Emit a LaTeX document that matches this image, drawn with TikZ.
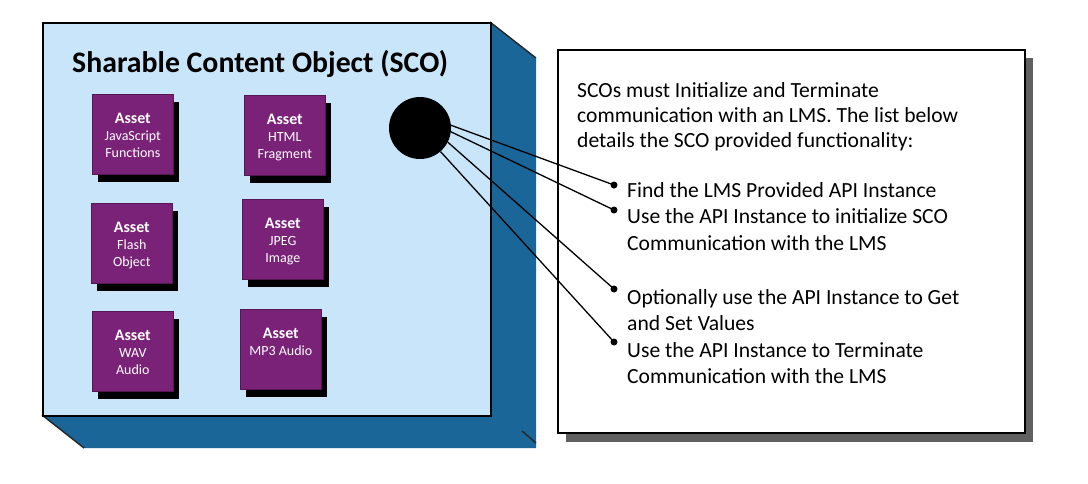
\documentclass[tikz,border=0pt]{standalone}
\usepackage{fontspec}
\setmainfont{Carlito}
\usetikzlibrary{calc}
\definecolor{scofront}{RGB}{201,229,250}
\definecolor{scoside}{RGB}{26,102,153}
\definecolor{assetpurple}{RGB}{122,33,120}
\definecolor{shadowgray}{RGB}{96,96,96}
\begin{document}
\begin{tikzpicture}[x=1pt,y=-1pt,
  frontbox/.style={draw=black,line width=1.6pt,fill=scofront,minimum width=448pt,minimum height=393pt,inner sep=0pt,anchor=north west},
  asset/.style={fill=assetpurple,draw=assetpurple!70!black,line width=0.6pt,minimum width=81pt,minimum height=80pt,inner sep=0pt,anchor=north west},
  assetshadow/.style={fill=black,minimum width=81pt,minimum height=80pt,inner sep=0pt,anchor=north west},
  assethead/.style={text=white,font=\fontsize{16}{18}\selectfont\bfseries,anchor=base,inner sep=0pt},
  assetsub/.style={text=white,font=\fontsize{14}{16}\selectfont,anchor=base,inner sep=0pt},
  hubstyle/.style={circle,fill=black,minimum size=62pt,inner sep=0pt},
  dotstyle/.style={circle,fill=black,minimum size=7pt,inner sep=0pt},
  wire/.style={draw=black,line width=1.3pt},
  panel/.style={draw=black,line width=1.6pt,fill=white,minimum width=467pt,minimum height=383pt,inner sep=0pt,anchor=north west},
  paneltext/.style={font=\fontsize{21.6}{24}\selectfont,anchor=base west,inner sep=0pt},
  sideedge/.style={draw=black!85,line width=1.4pt}
]
\fill[white] (0,0) rectangle (1088,483);
\useasboundingbox (0,0) rectangle (1088,483);

% 3D block
\fill[scoside] (490,22) -- (536,58) -- (536,448) -- (84,448) -- (42,415) -- (490,415) -- cycle;
\draw[sideedge] (490,22) -- (536,58);
\draw[sideedge] (42,415) -- (84,448);
\draw[sideedge] (522,431) -- (536,443);
\node[frontbox] (sco) at (42,22) {};

\node[font=\fontsize{29.8}{32}\selectfont\bfseries,anchor=base west,inner sep=0pt] (title) at (72,72) {Sharable Content Object (SCO)};

% assets
\node[assetshadow] (s1) at (98,102) {};
\node[asset] (a1) at (92,94) {};
\node[assethead] (a1h) at ($(a1.north)+(0,29)$) {Asset};
\node[assetsub] (a1s) at ($(a1.north)+(0,46)$) {JavaScript};
\node[assetsub] (a1t) at ($(a1.north)+(0,63)$) {Functions};

\node[assetshadow] (s2) at (250,103) {};
\node[asset] (a2) at (244,95) {};
\node[assethead] (a2h) at ($(a2.north)+(0,29)$) {Asset};
\node[assetsub] (a2s) at ($(a2.north)+(0,46)$) {HTML};
\node[assetsub] (a2t) at ($(a2.north)+(0,63)$) {Fragment};

\node[assetshadow] (s3) at (97,211) {};
\node[asset] (a3) at (91,203) {};
\node[assethead] (a3h) at ($(a3.north)+(0,29)$) {Asset};
\node[assetsub] (a3s) at ($(a3.north)+(0,46)$) {Flash};
\node[assetsub] (a3t) at ($(a3.north)+(0,63)$) {Object};

\node[assetshadow] (s4) at (248,207) {};
\node[asset] (a4) at (242,199) {};
\node[assethead] (a4h) at ($(a4.north)+(0,29)$) {Asset};
\node[assetsub] (a4s) at ($(a4.north)+(0,46)$) {JPEG};
\node[assetsub] (a4t) at ($(a4.north)+(0,63)$) {Image};

\node[assetshadow] (s5) at (98,319) {};
\node[asset] (a5) at (92,311) {};
\node[assethead] (a5h) at ($(a5.north)+(0,29)$) {Asset};
\node[assetsub] (a5s) at ($(a5.north)+(0,46)$) {WAV};
\node[assetsub] (a5t) at ($(a5.north)+(0,63)$) {Audio};

\node[assetshadow] (s6) at (246,317) {};
\node[asset] (a6) at (240,309) {};
\node[assethead] (a6h) at ($(a6.north)+(0,29)$) {Asset};
\node[assetsub] (a6s) at ($(a6.north)+(0,46)$) {MP3 Audio};

% panel
\fill[shadowgray] (566,58) rectangle (1033,442);
\node[panel] (pan) at (557,49) {};

\node[paneltext] (p1) at (577,97) {SCOs must Initialize and Terminate};
\node[paneltext] (p2) at (577,122) {communication with an LMS. The list below};
\node[paneltext] (p3) at (577,147) {details the SCO provided functionality:};

\node[paneltext] (b1) at (627,197) {Find the LMS Provided API Instance};
\node[paneltext] (b2) at (627,223) {Use the API Instance to initialize SCO};
\node[paneltext] (b2b) at (627,250) {Communication with the LMS};
\node[paneltext] (b3) at (627,304) {Optionally use the API Instance to Get};
\node[paneltext] (b3b) at (627,330) {and Set Values};
\node[paneltext] (b4) at (627,357) {Use the API Instance to Terminate};
\node[paneltext] (b4b) at (627,383) {Communication with the LMS};

% hub and connectors
\node[hubstyle] (hub) at (420,128) {};
\node[dotstyle] (d1) at (614,185) {};
\node[dotstyle] (d2) at (614,210) {};
\node[dotstyle] (d3) at (614,289) {};
\node[dotstyle] (d4) at (614,342) {};
\draw[wire] (hub.5) -- (d1.center);
\draw[wire] (hub.-7) -- (d2.center);
\draw[wire] (hub.-27) -- (d3.center);
\draw[wire] (hub.-49) -- (d4.center);
\end{tikzpicture}
\end{document}
